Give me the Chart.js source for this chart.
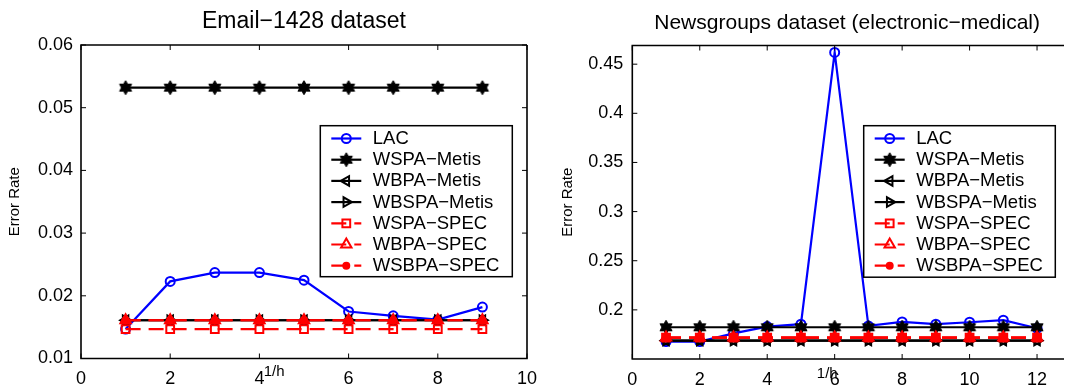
<!DOCTYPE html>
<html>
<head>
<meta charset="UTF-8">
<title>Error Rate: Email-1428 and Newsgroups</title>
<style>
  body { margin: 0; background: #fff; overflow: hidden; width: 1070px; height: 385px; position: relative; }
  .panel { position: absolute; top: 0; }
</style>
<script src="https://cdn.jsdelivr.net/npm/chart.js"></script>
</head>
<body>
<div class="panel" style="left:0px"><canvas id="emailChart" width="540" height="385"></canvas></div>
<div class="panel" style="left:540px"><canvas id="newsChart" width="530" height="385"></canvas></div>
<script>
// series names (legend order)
const seriesNames = ['LAC', 'WSPA\u2212Metis', 'WBPA\u2212Metis', 'WBSPA\u2212Metis',
                     'WSPA\u2212SPEC', 'WBPA\u2212SPEC', 'WSBPA\u2212SPEC'];

// Email-1428 dataset
const emailX = [1, 2, 3, 4, 5, 6, 7, 8, 9];
const emailLAC       = [0.0147, 0.0223, 0.0237, 0.0237, 0.0225, 0.0175, 0.0168, 0.0162, 0.0182];
const emailWSPAMetis = [0.0532, 0.0532, 0.0532, 0.0532, 0.0532, 0.0532, 0.0532, 0.0532, 0.0532];
const emailWBPAMetis = [0.0161, 0.0161, 0.0161, 0.0161, 0.0161, 0.0161, 0.0161, 0.0161, 0.0161];
const emailWBSPAMetis= [0.0161, 0.0161, 0.0161, 0.0161, 0.0161, 0.0161, 0.0161, 0.0161, 0.0161];
const emailWSPASPEC  = [0.0147, 0.0147, 0.0147, 0.0147, 0.0147, 0.0147, 0.0147, 0.0147, 0.0147];
const emailWBPASPEC  = [0.0161, 0.0161, 0.0161, 0.0161, 0.0161, 0.0161, 0.0161, 0.0161, 0.0161];
const emailWSBPASPEC = [0.0161, 0.0161, 0.0161, 0.0161, 0.0161, 0.0161, 0.0161, 0.0161, 0.0161];
const emailXTicks = [0, 2, 4, 6, 8, 10];
const emailYTicks = [0.01, 0.02, 0.03, 0.04, 0.05, 0.06];
const emailYTickLabels = ['0.01', '0.02', '0.03', '0.04', '0.05', '0.06'];

// Newsgroups dataset (electronic-medical)
const newsX = [1, 2, 3, 4, 5, 6, 7, 8, 9, 10, 11, 12];
const newsLAC       = [0.1677, 0.1677, 0.176, 0.183, 0.1854, 0.462, 0.1837, 0.1877, 0.1854, 0.1874, 0.1895, 0.1813];
const newsWSPAMetis = [0.1823, 0.1823, 0.1823, 0.1823, 0.1823, 0.1823, 0.1823, 0.1823, 0.1823, 0.1823, 0.1823, 0.1823];
const newsWBPAMetis = [0.1687, 0.1687, 0.1687, 0.1687, 0.1687, 0.1687, 0.1687, 0.1687, 0.1687, 0.1687, 0.1687, 0.1687];
const newsWBSPAMetis= [0.1687, 0.1687, 0.1687, 0.1687, 0.1687, 0.1687, 0.1687, 0.1687, 0.1687, 0.1687, 0.1687, 0.1687];
const newsWSPASPEC  = [0.1718, 0.1718, 0.1718, 0.1718, 0.1718, 0.1718, 0.1718, 0.1718, 0.1718, 0.1718, 0.1718, 0.1718];
const newsWBPASPEC  = [0.1718, 0.1718, 0.1718, 0.1718, 0.1718, 0.1718, 0.1718, 0.1718, 0.1718, 0.1718, 0.1718, 0.1718];
const newsWSBPASPEC = [0.1718, 0.1718, 0.1718, 0.1718, 0.1718, 0.1718, 0.1718, 0.1718, 0.1718, 0.1718, 0.1718, 0.1718];
const newsXTicks = [0, 2, 4, 6, 8, 10, 12];
const newsYTicks = [0.2, 0.25, 0.3, 0.35, 0.4, 0.45];
const newsYTickLabels = ['0.2', '0.25', '0.3', '0.35', '0.4', '0.45'];

const FONT = '"Liberation Sans", Arial, Helvetica, sans-serif';

// hexagram marker, like matlab's 'h'
function makeHexagram(color) {
  const c = document.createElement('canvas');
  c.width = 16; c.height = 16;
  const g = c.getContext('2d');
  const r = 7, ri = r / Math.sqrt(3);
  g.beginPath();
  for (let k = 0; k < 12; k++) {
    const a = -Math.PI / 2 + k * Math.PI / 6;
    const rr = k % 2 === 0 ? r : ri;
    const px = 8 + rr * Math.cos(a), py = 8 + rr * Math.sin(a);
    if (k === 0) g.moveTo(px, py); else g.lineTo(px, py);
  }
  g.closePath();
  g.fillStyle = color; g.fill();
  g.lineWidth = 1; g.strokeStyle = color; g.stroke();
  return c;
}
const hexagram = makeHexagram('#000');

const seriesStyles = [
  { color: '#0000ff', marker: 'circle',   radius: 4.5, rotation: 0,   dash: [],      filled: false },
  { color: '#000000', marker: hexagram,   radius: 6,   rotation: 0,   dash: [],      filled: true  },
  { color: '#000000', marker: 'triangle', radius: 5.5, rotation: -90, dash: [],      filled: false },
  { color: '#000000', marker: 'triangle', radius: 5.5, rotation: 90,  dash: [],      filled: false },
  { color: '#ff0000', marker: 'rect',     radius: 5.5, rotation: 0,   dash: [15, 8], filled: false },
  { color: '#ff0000', marker: 'triangle', radius: 6,   rotation: 0,   dash: [15, 8], filled: false },
  { color: '#ff0000', marker: 'circle',   radius: 3,   rotation: 0,   dash: [15, 8], filled: true  }
];

function makeDatasets(xs, series) {
  return series.map(function(ys, i) {
    const st = seriesStyles[i];
    return {
      label: seriesNames[i],
      data: xs.map(function(x, j) { return { x: x, y: ys[j] }; }),
      borderColor: st.color,
      borderWidth: 2.2,
      borderDash: st.dash,
      pointStyle: st.marker,
      pointRadius: st.radius,
      pointRotation: st.rotation,
      pointBorderColor: st.color,
      pointBackgroundColor: st.filled ? st.color : 'rgba(0,0,0,0)',
      pointBorderWidth: 2,
      tension: 0,
      order: series.length - i
    };
  });
}

// own marker drawing for the legend box
function drawMarker(ctx, st, x, y) {
  if (typeof st.marker !== 'string') {
    ctx.drawImage(st.marker, x - st.marker.width / 2, y - st.marker.height / 2);
    return;
  }
  ctx.save();
  ctx.translate(x, y);
  ctx.rotate(st.rotation * Math.PI / 180);
  ctx.setLineDash([]);
  ctx.lineWidth = 2;
  ctx.strokeStyle = st.color;
  ctx.fillStyle = st.color;
  ctx.beginPath();
  const r = st.radius;
  if (st.marker === 'circle') {
    ctx.arc(0, 0, r, 0, Math.PI * 2);
  } else if (st.marker === 'rect') {
    const s = r * Math.SQRT1_2;
    ctx.rect(-s, -s, 2 * s, 2 * s);
  } else if (st.marker === 'triangle') {
    let a = 0;
    ctx.moveTo(Math.sin(a) * r, -Math.cos(a) * r);
    a += Math.PI * 2 / 3;
    ctx.lineTo(Math.sin(a) * r, -Math.cos(a) * r);
    a += Math.PI * 2 / 3;
    ctx.lineTo(Math.sin(a) * r, -Math.cos(a) * r);
    ctx.closePath();
  }
  if (st.filled) ctx.fill();
  ctx.stroke();
  ctx.restore();
}

// frame, inward ticks, titles and legend box, matlab style
const decorPlugin = {
  id: 'decor',
  afterDraw: function(chart, args, opts) {
    const ctx = chart.ctx;
    const a = chart.chartArea;
    const xs = chart.scales.x, ys = chart.scales.y;
    ctx.save();
    ctx.strokeStyle = '#000';
    ctx.lineWidth = 1.6;
    ctx.setLineDash([]);
    ctx.beginPath();
    ctx.moveTo(a.right + (opts.rightBorder ? 0 : 2), a.top);
    ctx.lineTo(a.left, a.top);
    ctx.lineTo(a.left, a.bottom);
    ctx.lineTo(a.right + (opts.rightBorder ? 0 : 2), a.bottom);
    if (opts.rightBorder) ctx.lineTo(a.right, a.top);
    ctx.stroke();

    ctx.lineWidth = 1;
    ctx.beginPath();
    xs.ticks.forEach(function(t) {
      const px = xs.getPixelForValue(t.value);
      ctx.moveTo(px, a.bottom); ctx.lineTo(px, a.bottom - 5);
      ctx.moveTo(px, a.top); ctx.lineTo(px, a.top + 5);
    });
    ys.ticks.forEach(function(t) {
      const py = ys.getPixelForValue(t.value);
      ctx.moveTo(a.left, py); ctx.lineTo(a.left + 5, py);
      if (opts.rightBorder) { ctx.moveTo(a.right, py); ctx.lineTo(a.right - 5, py); }
    });
    ctx.stroke();

    ctx.fillStyle = '#000';
    ctx.textAlign = 'center';
    ctx.textBaseline = 'middle';
    ctx.font = opts.titleSize + 'px ' + FONT;
    ctx.fillText(opts.title, (a.left + a.right) / 2, opts.titleY);

    ctx.font = '15px ' + FONT;
    ctx.fillText('1/h', xs.getPixelForValue(opts.xLabelAt), opts.xLabelY);

    ctx.save();
    ctx.translate(opts.yLabelX, (a.top + a.bottom) / 2);
    ctx.rotate(-Math.PI / 2);
    ctx.fillText('Error Rate', 0, 0);
    ctx.restore();

    // legend
    const lg = opts.legend;
    const bx = a.right - lg.inset - lg.width, by = lg.top;
    ctx.fillStyle = '#fff';
    ctx.fillRect(bx, by, lg.width, lg.height);
    ctx.lineWidth = 1.5;
    ctx.strokeStyle = '#000';
    ctx.strokeRect(bx, by, lg.width, lg.height);
    ctx.font = '18.5px ' + FONT;
    ctx.textAlign = 'left';
    seriesNames.forEach(function(name, i) {
      const st = seriesStyles[i];
      const cy = by + 12.8 + i * 21.2;
      ctx.strokeStyle = st.color;
      ctx.lineWidth = 2.2;
      ctx.setLineDash(st.dash);
      ctx.beginPath();
      ctx.moveTo(bx + 11, cy); ctx.lineTo(bx + 41, cy);
      ctx.stroke();
      ctx.setLineDash([]);
      drawMarker(ctx, st, bx + 26, cy);
      ctx.fillStyle = '#000';
      ctx.fillText(name, bx + 52.5, cy + 0.5);
    });
    ctx.restore();
  }
};

function axisOptions(xMin, xMax, xTicks, yMin, yMax, yTicks, yLabels, yWidth, yPad, xHeight) {
  return {
    x: {
      type: 'linear', min: xMin, max: xMax,
      grid: { display: false, drawTicks: false },
      border: { display: false },
      ticks: { padding: 10, color: '#000', font: { size: 18, family: FONT }, maxRotation: 0, autoSkip: false,
               callback: function(v) { return String(v); } },
      afterBuildTicks: function(s) { s.ticks = xTicks.map(function(v) { return { value: v }; }); },
      afterFit: function(s) { s.height = xHeight; s.paddingLeft = 0; s.paddingRight = 0; }
    },
    y: {
      type: 'linear', min: yMin, max: yMax,
      grid: { display: false, drawTicks: false },
      border: { display: false },
      ticks: { padding: yPad, color: '#000', font: { size: 18, family: FONT }, autoSkip: false,
               callback: function(v, i) { return yLabels[i]; } },
      afterBuildTicks: function(s) { s.ticks = yTicks.map(function(v) { return { value: v }; }); },
      afterFit: function(s) { s.width = yWidth; }
    }
  };
}

new Chart(document.getElementById('emailChart'), {
  type: 'line',
  data: {
    datasets: makeDatasets(emailX, [emailLAC, emailWSPAMetis, emailWBPAMetis, emailWBSPAMetis,
                                    emailWSPASPEC, emailWBPASPEC, emailWSBPASPEC])
  },
  options: {
    responsive: false,
    devicePixelRatio: 1,
    animation: false,
    layout: { padding: { top: 45, right: 13, bottom: 0, left: 0 } },
    scales: axisOptions(0, 10, emailXTicks, 0.01, 0.06, emailYTicks, emailYTickLabels, 81, 8, 26.5),
    plugins: {
      legend: { display: false },
      tooltip: { enabled: false },
      decor: {
        title: 'Email\u22121428 dataset', titleSize: 23, titleY: 22,
        xLabelAt: 4.33, xLabelY: 372, yLabelX: 15, rightBorder: true,
        legend: { inset: 14.7, top: 125.7, width: 192, height: 151 }
      }
    }
  },
  plugins: [decorPlugin]
});

new Chart(document.getElementById('newsChart'), {
  type: 'line',
  data: {
    datasets: makeDatasets(newsX, [newsLAC, newsWSPAMetis, newsWBPAMetis, newsWBSPAMetis,
                                   newsWSPASPEC, newsWBPASPEC, newsWSBPASPEC])
  },
  options: {
    responsive: false,
    devicePixelRatio: 1,
    animation: false,
    layout: { padding: { top: 45.5, right: 0, bottom: 0, left: 0 } },
    scales: axisOptions(0, 12.74, newsXTicks, 0.15, 0.469, newsYTicks, newsYTickLabels, 92.3, 9, 26),
    plugins: {
      legend: { display: false },
      tooltip: { enabled: false },
      decor: {
        title: 'Newsgroups dataset (electronic\u2212medical)', titleSize: 21, titleY: 23,
        xLabelAt: 5.78, xLabelY: 374, yLabelX: 28, rightBorder: false,
        legend: { inset: 6.7, top: 125.7, width: 191.6, height: 151.5 }
      }
    }
  },
  plugins: [decorPlugin]
});
</script>
</body>
</html>
